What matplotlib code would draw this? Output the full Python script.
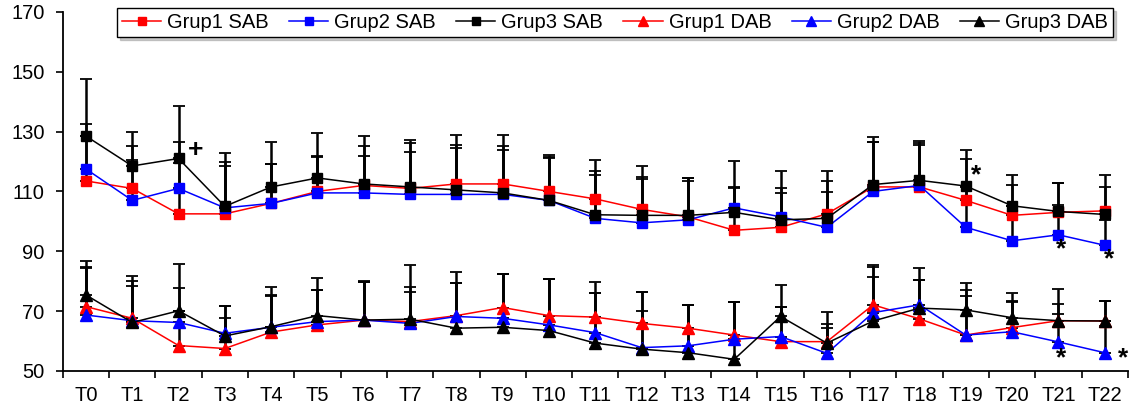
import matplotlib.pyplot as plt
import numpy as np

plt.rcParams['font.family'] = ['Liberation Sans', 'DejaVu Sans']

times = [f"T{i}" for i in range(23)]

# systolic (SAB) means
g1_sab = [113.5, 111, 102.5, 102.5, 106, 110, 112, 111, 112.5, 112.5, 110, 107.5,
          104, 101.5, 97, 98, 102.5, 111.5, 111.5, 107, 102, 103, 103.5]
g2_sab = [117.5, 107, 111, 104.5, 106, 109.5, 109.5, 109, 109, 109, 107, 101,
          99.5, 100.5, 104.5, 101.5, 98, 110, 112, 98, 93.5, 95.5, 92]
g3_sab = [128.5, 118.5, 121, 105, 111.5, 114.5, 112.5, 111.5, 110.5, 109.5, 107, 102.2,
          102, 102, 103, 100.5, 101, 112.3, 113.7, 111.8, 105.2, 103.3, 102.3]
# upper error (SD) for SAB
g1_sab_sd = [19, 14.2, 17, 16.1, 13.3, 11.9, 13.2, 15.2, 13.1, 12.8, 12.2, 13.1,
             14.6, 13.1, 14.1, 13.3, 14.2, 15, 14.7, 13.9, 10.1, 9.9, 7.9]
g2_sab_sd = [11, 13.5, 15.4, 15.2, 13, 12, 12.5, 14.3, 15.5, 14.7, 14.3, 14.6,
             14.7, 13.1, 15.7, 15.2, 11.8, 16.5, 13.5, 13.5, 11.5, 10, 8.3]
g3_sab_sd = [19.2, 11.3, 17.4, 17.8, 14.9, 14.9, 16, 15.7, 18.4, 19.4, 14.5, 14.5,
             12.8, 12.6, 8.5, 9.1, 12.5, 15.8, 13.2, 11.9, 10.4, 9.6, 13.3]

# diastolic (DAB) means
g1_dab = [71.5, 67.6, 58.5, 57.5, 63, 65.4, 67, 66.5, 68.5, 71.2, 68.5, 68,
          65.9, 64.3, 62, 59.8, 59.8, 72.1, 67.4, 62, 64.5, 66.8, 66.7]
g2_dab = [68.7, 66.8, 66.2, 62.6, 64.6, 66.5, 67, 65.9, 68.2, 67.6, 65.4, 62.8,
          57.8, 58.4, 60.6, 61.5, 55.9, 69.5, 72.1, 62, 63.1, 59.7, 56.1]
g3_dab = [75.4, 66.2, 70.1, 61.7, 64.8, 68.5, 67, 67.3, 64.3, 64.6, 63.5, 59.3,
          57.3, 56.1, 53.9, 68.2, 59.3, 66.7, 71, 70.4, 67.8, 66.8, 66.7]
# upper error (SD) for DAB
g1_dab_sd = [13.2, 12.5, 11.5, 10.3, 12.5, 11.7, 12.7, 11.7, 10.8, 11.1, 12.3, 8,
             10.6, 7.8, 11, 11.7, 4.7, 9.4, 13.1, 15.1, 8.7, 5.6, 6.8]
g2_dab_sd = [15.8, 11.7, 11.5, 9.2, 10.6, 10.6, 12.7, 10.6, 11.1, 14.7, 15.4, 13.2,
             12.3, 13.8, 12.4, 10, 9.9, 15.4, 8.3, 13.1, 10.4, 9.4, 9]
g3_dab_sd = [11.5, 15.7, 15.6, 10.1, 13.4, 12.7, 13.1, 18.2, 18.7, 17.7, 17.3, 20.4,
             19.2, 16, 19.1, 10.6, 10.5, 18.8, 13.3, 8.9, 8.4, 10.5, 6.8]

series = [
    ("Grup1 SAB", g1_sab, g1_sab_sd, 'red', 's', 7),
    ("Grup2 SAB", g2_sab, g2_sab_sd, 'blue', 's', 7),
    ("Grup3 SAB", g3_sab, g3_sab_sd, 'black', 's', 7),
    ("Grup1 DAB", g1_dab, g1_dab_sd, 'red', '^', 8),
    ("Grup2 DAB", g2_dab, g2_dab_sd, 'blue', '^', 8),
    ("Grup3 DAB", g3_dab, g3_dab_sd, 'black', '^', 8),
]

fig = plt.figure(figsize=(11.41, 4.09), dpi=100)
ax = fig.add_axes([0.055, 0.093, 0.9335, 0.878])

x = np.arange(len(times))
handles = []
for name, vals, sd, col, mk, ms in series:
    ax.errorbar(x, vals, yerr=[np.zeros(len(sd)), sd], fmt='none', ecolor='black',
                elinewidth=1.8, capsize=4, capthick=1.3, zorder=2)
for name, vals, sd, col, mk, ms in series:
    h, = ax.plot(x, vals, color=col, marker=mk, markersize=ms, linewidth=1.1,
                 markeredgecolor=col, zorder=3, label=name)
    handles.append(h)

# significance marks
marks = [(2.36, 123.9, '+'), (19.23, 115.5, '*'), (21.05, 90.5, '*'),
         (22.1, 87.2, '*'), (21.05, 54.3, '*'), (22.4, 54.3, '*')]
for mx, my, s in marks:
    ax.text(mx, my, s, fontsize=19, fontweight='bold', ha='center', va='center')

ax.set_xlim(-0.5, 22.5)
ax.set_ylim(50, 170)
ax.set_yticks(np.arange(50, 171, 20))
ax.set_xticks(x)
ax.set_xticklabels(times)
ax.set_xticks(np.arange(-0.5, 23, 1), minor=True)
ax.tick_params(axis='x', which='major', length=0, pad=11, labelsize=14.5)
ax.tick_params(axis='x', which='minor', length=5, width=1.2, direction='out')
ax.tick_params(axis='y', length=5, width=1.2, pad=8, labelsize=14.5)
for s in ['top', 'right']:
    ax.spines[s].set_visible(False)
for s in ['left', 'bottom']:
    ax.spines[s].set_linewidth(1.3)

leg = fig.legend(handles=handles, loc='upper center', ncol=6,
                 bbox_to_anchor=(615 / 1141, 1 - 8 / 409), fontsize=14.5,
                 frameon=True, fancybox=False, edgecolor='black', framealpha=1,
                 handlelength=1.95, handletextpad=0.3, columnspacing=1.0,
                 borderpad=0.25, borderaxespad=0, markerscale=0.85,
                 shadow={'ox': 2, 'oy': -2, 'color': '0.6'})
leg.get_frame().set_linewidth(1.0)

fig.savefig('out.png', dpi=100)
